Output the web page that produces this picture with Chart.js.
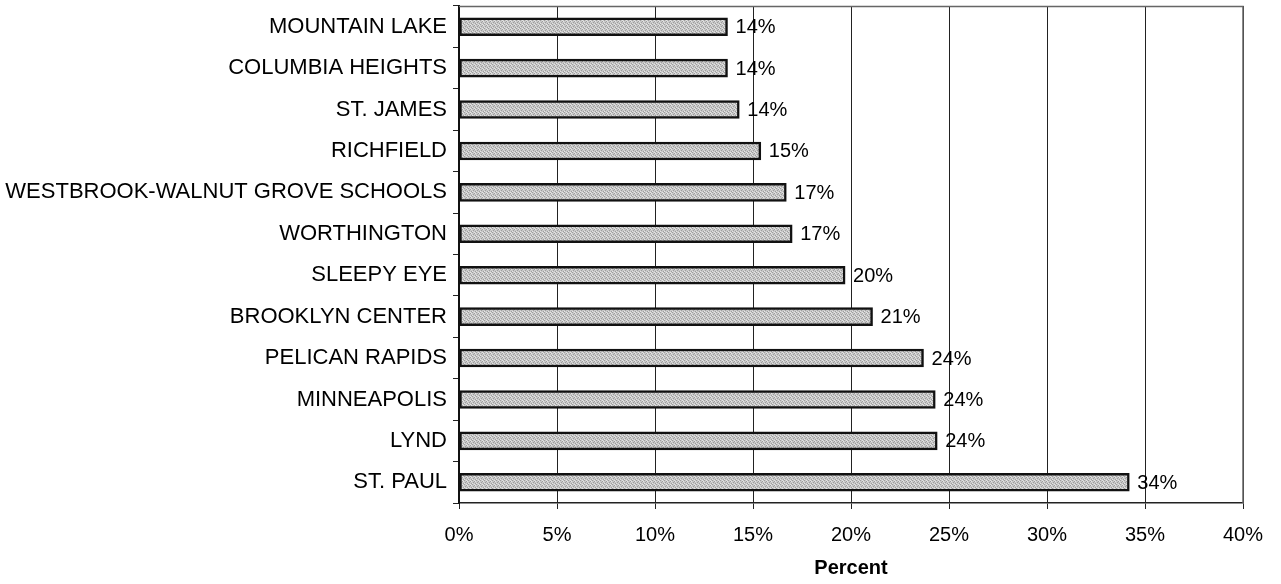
<!DOCTYPE html>
<html>
<head>
<meta charset="utf-8">
<script src="https://cdn.jsdelivr.net/npm/chart.js@4/dist/chart.umd.min.js"></script>
<style>
  html, body { margin: 0; padding: 0; background: #fff; }
  #wrap { width: 1281px; height: 584px; }
</style>
</head>
<body>
<div id="wrap"><canvas id="myChart" width="1281" height="584"></canvas></div>
<script>
const districts = [
  "MOUNTAIN LAKE", "COLUMBIA HEIGHTS", "ST. JAMES", "RICHFIELD",
  "WESTBROOK-WALNUT GROVE SCHOOLS", "WORTHINGTON", "SLEEPY EYE",
  "BROOKLYN CENTER", "PELICAN RAPIDS", "MINNEAPOLIS", "LYND", "ST. PAUL"
];
const percents = [13.7, 13.7, 14.3, 15.4, 16.7, 17.0, 19.7, 21.1, 23.7, 24.3, 24.4, 34.2];
const axisTicks = [0, 5, 10, 15, 20, 25, 30, 35, 40];

const FONT = "'Liberation Sans', Arial, sans-serif";

// stippled grey fill for the bars
function stipple() {
  const c = document.createElement("canvas");
  c.width = 4; c.height = 4;
  const g = c.getContext("2d");
  g.fillStyle = "#c8c8c8";
  g.fillRect(0, 0, 4, 4);
  g.fillStyle = "#9e9e9e";
  [[0, 0], [2, 1], [1, 2], [3, 3]].forEach(([x, y]) => g.fillRect(x, y, 1, 1));
  g.fillStyle = "#e4e4e4";
  [[2, 0], [0, 3], [3, 1]].forEach(([x, y]) => g.fillRect(x, y, 1, 1));
  return g.createPattern(c, "repeat");
}

// value text at the end of each bar
const valueLabels = {
  id: "valueLabels",
  afterDatasetsDraw(chart) {
    const { ctx } = chart;
    const meta = chart.getDatasetMeta(0);
    ctx.save();
    ctx.font = "20px " + FONT;
    ctx.fillStyle = "#000";
    ctx.textBaseline = "middle";
    ctx.textAlign = "left";
    meta.data.forEach((bar, i) => {
      ctx.fillText(Math.round(percents[i]) + "%", bar.x + 8, bar.y + 1);
    });
    ctx.restore();
  }
};

// frame round the plot area
const plotFrame = {
  id: "plotFrame",
  beforeDatasetsDraw(chart) {
    const { ctx, chartArea: a } = chart;
    ctx.save();
    ctx.strokeStyle = "#666";
    ctx.lineWidth = 1.5;
    ctx.beginPath();
    ctx.moveTo(a.left, a.top + 0.5);
    ctx.lineTo(a.right, a.top + 0.5);
    ctx.lineTo(a.right, a.bottom);
    ctx.stroke();
    ctx.restore();
  }
};

const ctx = document.getElementById("myChart").getContext("2d");

new Chart(ctx, {
  type: "bar",
  data: {
    labels: districts,
    datasets: [{
      data: percents,
      backgroundColor: stipple(),
      borderColor: "#111",
      borderWidth: 2.5,
      borderSkipped: false,
      barThickness: 18
    }]
  },
  options: {
    indexAxis: "y",
    responsive: false,
    animation: false,
    layout: { padding: { top: 6, right: 38, left: 0, bottom: 0 } },
    plugins: {
      legend: { display: false },
      tooltip: { enabled: false }
    },
    scales: {
      x: {
        min: 0,
        max: 40,
        afterBuildTicks(scale) {
          scale.ticks = axisTicks.map(v => ({ value: v }));
        },
        afterFit(scale) { scale.height = 81; },
        ticks: {
          color: "#000",
          font: { family: FONT, size: 20 },
          padding: 14,
          callback: v => v + "%"
        },
        grid: { color: "#222", lineWidth: 1, tickLength: 6 },
        border: { color: "#222", width: 1.5 },
        title: {
          display: true,
          text: "Percent",
          color: "#000",
          font: { family: FONT, size: 20, weight: "bold" },
          padding: { top: 4, bottom: 4 }
        }
      },
      y: {
        afterFit(scale) {
          scale.width = 459;
          scale.paddingTop = 0;
          scale.paddingBottom = 0;
        },
        ticks: {
          color: "#000",
          font: { family: FONT, size: 22 },
          padding: 6
        },
        grid: { drawOnChartArea: false, drawTicks: true, tickLength: 6, color: "#222", offset: true },
        border: { color: "#111", width: 2 }
      }
    }
  },
  plugins: [plotFrame, valueLabels]
});
</script>
</body>
</html>
